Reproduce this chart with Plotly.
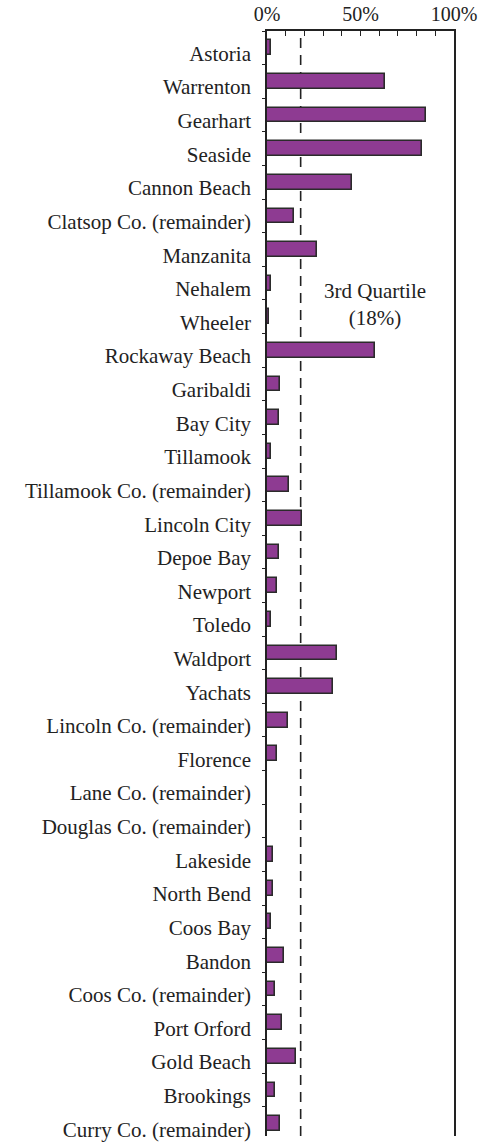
import plotly.graph_objects as go

categories = [
    "Astoria", "Warrenton", "Gearhart", "Seaside", "Cannon Beach",
    "Clatsop Co. (remainder)", "Manzanita", "Nehalem", "Wheeler",
    "Rockaway Beach", "Garibaldi", "Bay City", "Tillamook",
    "Tillamook Co. (remainder)", "Lincoln City", "Depoe Bay", "Newport",
    "Toledo", "Waldport", "Yachats", "Lincoln Co. (remainder)", "Florence",
    "Lane Co. (remainder)", "Douglas Co. (remainder)", "Lakeside",
    "North Bend", "Coos Bay", "Bandon", "Coos Co. (remainder)",
    "Port Orford", "Gold Beach", "Brookings", "Curry Co. (remainder)",
]
values = [
    2.2, 63, 85, 83, 45.6,
    14.3, 27, 2.1, 1.1,
    58, 7.1, 6.2, 2.1,
    11.6, 18.5, 6.2, 5.2,
    2.1, 37.3, 35.3, 11.4, 5.2,
    0, 0, 3.0,
    3.0, 2.1, 9.1, 4.1,
    8.2, 15.5, 4.1, 7.1,
]
quartile = 18
x_tick_vals = [0, 50, 100]
x_tick_text = ["0%", "50%", "100%"]
annotation_text = "3rd Quartile<br>(18%)"

n = len(categories)
idx = list(range(n))
FONT = "Liberation Serif"
TXT = "#222222"

fig = go.Figure()
fig.add_trace(go.Bar(
    x=values, y=idx, orientation="h", width=0.44,
    marker=dict(color="#8e3b92", line=dict(color="#2b2b2b", width=1.6)),
    hoverinfo="x+y",
))

fig.add_shape(type="line", xref="x", yref="paper", x0=quartile, x1=quartile,
              y0=0, y1=1, layer="below",
              line=dict(color="#222222", width=1.6, dash="10px,7px"))

fig.add_annotation(x=58, y=7.65, xref="x", yref="y", text=annotation_text,
                   showarrow=False, font=dict(family=FONT, size=21, color=TXT),
                   align="center")

fig.update_layout(
    width=481, height=1142,
    margin=dict(l=267, r=27, t=31, b=0),
    plot_bgcolor="white", paper_bgcolor="white",
    showlegend=False,
    font=dict(family=FONT, size=21, color=TXT),
    bargap=0,
)
fig.update_xaxes(
    range=[0, 100], side="top",
    tickvals=x_tick_vals, ticktext=x_tick_text,
    ticks="inside", ticklen=5, tickwidth=1.3, tickcolor="#222",
    minor=dict(dtick=10, tick0=0, ticks="inside", ticklen=5, tickwidth=1.3,
               tickcolor="#222", showgrid=False),
    showgrid=False, zeroline=False,
    showline=True, linecolor="#222", linewidth=1.6,
    tickfont=dict(family=FONT, size=20, color=TXT),
    ticklabeloverflow="allow",
    fixedrange=True,
)
fig.update_yaxes(
    range=[n - 0.5 - 0.13, -0.5],
    tickmode="array",
    tickvals=[i + 0.17 for i in idx], ticktext=categories,
    ticks="", ticklabelstandoff=10,
    minor=dict(tickmode="linear", tick0=0.5, dtick=1, ticks="outside",
               ticklen=3, tickwidth=1.3, tickcolor="#222", showgrid=False),
    showgrid=False, zeroline=False,
    showline=True, mirror=True, linecolor="#222", linewidth=1.6,
    tickfont=dict(family=FONT, size=21, color=TXT),
    ticklabeloverflow="allow",
    fixedrange=True,
)

fig.write_html("out.html",
               config={"displayModeBar": False},
               post_script="document.body.style.margin='0';document.body.style.overflow='hidden';")
